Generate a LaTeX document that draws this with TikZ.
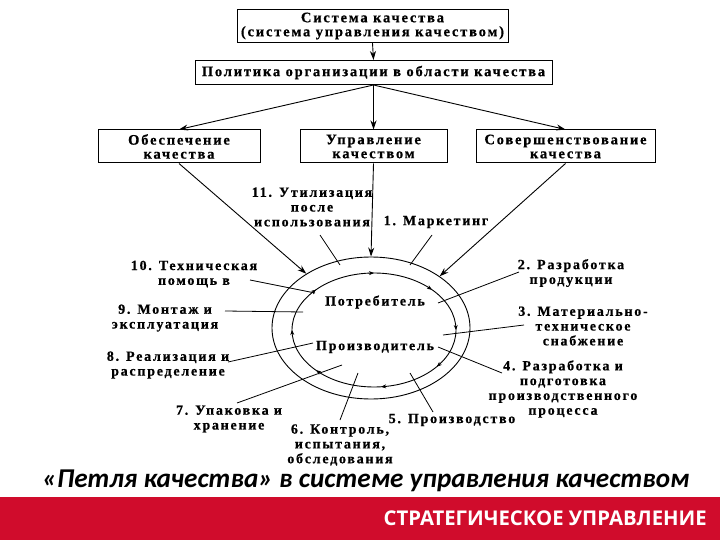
\documentclass[tikz,border=0pt]{standalone}
\usepackage{fontspec}
\setmainfont{Liberation Serif}
\newfontfamily\qfont[LetterSpace=12.5,BoldFeatures={FakeBold=0.6}]{Liberation Serif}
\newfontfamily\titlefont{Carlito}
\newfontfamily\footfont{Open Sans}
\usetikzlibrary{arrows.meta,shapes.geometric,calc}

\definecolor{bandred}{RGB}{208,12,44}

\tikzset{
  qbox/.style={draw, line width=1pt, inner sep=0pt, align=center,
    font=\qfont\bfseries\fontsize{14.5}{14}\selectfont},
  stage/.style={inner sep=0pt, align=center,
    font=\qfont\bfseries\fontsize{14}{14.8}\selectfont},
  ring/.style={draw, ellipse, line width=0.9pt, inner sep=0pt},
  feed/.style={line width=0.9pt, -{Stealth[length=9pt,width=6pt]}},
  tick/.style={line width=0.8pt},
  flow/.style={line width=0.6pt, -{Stealth[length=5pt,width=4pt]}}
}

\begin{document}
\begin{tikzpicture}[x=1pt,y=-1pt]
\useasboundingbox (0,0) rectangle (720,540);
\fill[white] (0,0) rectangle (720,540);

% top of the scheme
\node[qbox, minimum width=271, minimum height=33] (sys) at (372.5,26)
  {Система качества\\(система управления качеством)};
\node[qbox, minimum width=357, minimum height=24] (pol) at (373.5,72.5)
  {Политика организации в области качества};
\node[qbox, minimum width=162, minimum height=33] (obes) at (179,146.5)
  {Обеспечение\\качества};
\node[qbox, minimum width=147, minimum height=33] (upr) at (373.5,146.5)
  {Управление\\качеством};
\node[qbox, minimum width=179, minimum height=33] (sov) at (565.5,146.5)
  {Совершенствование\\качества};

\draw[feed] (sys.south) -- (pol.north);
\draw[feed] (pol.south) -- (obes.north);
\draw[feed] (pol.south) -- (upr.north);
\draw[feed] (pol.south) -- (sov.north);

% the loop
\node[ring, minimum width=198, minimum height=142] (outer) at (371,328) {};
\node[ring, minimum width=164, minimum height=114] (inner) at (374,330) {};
\node[stage] (cons) at (375,302) {Потребитель};
\node[stage] (prod) at (375,347) {Производитель};

\draw[feed] (obes.south) -- (outer.140);
\draw[feed] (upr.south) -- (outer.north);
\draw[feed] (sov.south) -- (outer.37);

% arrows round the inner ring
\foreach \a in {-90,-45,0,40,85,135,180,225}
  \draw[flow] ($(inner.center)+({82*cos(\a-4)},{57*sin(\a-4)})$)
    -- ($(inner.center)+({82*cos(\a)},{57*sin(\a)})$);

% stages
\node[stage] (st11) at (312,207) {11. Утилизация\\после\\использования};
\node[stage] (st1) at (436,222) {1. Маркетинг};
\node[stage] (st2) at (571,273) {2. Разработка\\продукции};
\node[stage] (st3) at (583,326) {3. Материально-\\техническое\\снабжение};
\node[stage] (st4) at (563,389) {4. Разработка и\\подготовка\\производственного\\процесса};
\node[stage] (st5) at (452,420) {5. Производство};
\node[stage] (st6) at (340,445) {6. Контроль,\\испытания,\\обследования};
\node[stage] (st7) at (229,419) {7. Упаковка и\\хранение};
\node[stage] (st8) at (168,365) {8. Реализация и\\распределение};
\node[stage] (st9) at (165,318) {9. Монтаж и\\эксплуатация};
\node[stage] (st10) at (194,274) {10. Техническая\\помощь в};

\coordinate (a1) at (432,235);  \coordinate (b1) at (410,265);
\coordinate (a2) at (519,272);  \coordinate (b2) at (438,303);
\coordinate (a3) at (524,325);  \coordinate (b3) at (443,335);
\coordinate (a4) at (502,373);  \coordinate (b4) at (438,347);
\coordinate (a5) at (433,412);  \coordinate (b5) at (410,373);
\coordinate (a6) at (340,420);  \coordinate (b6) at (358,373);
\coordinate (a7) at (237,403);  \coordinate (b7) at (342,365);
\coordinate (a8) at (228,362);  \coordinate (b8) at (313,343);
\coordinate (a9) at (225,311);  \coordinate (b9) at (303,312);
\coordinate (a10) at (250,280); \coordinate (b10) at (315,293);
\coordinate (a11) at (320,235); \coordinate (b11) at (340,265);
\foreach \i in {1,...,11}
  \draw[tick] (a\i) -- (b\i);

% caption and band
\node[inner sep=0pt, font=\titlefont\bfseries\itshape\fontsize{27.2}{30}\selectfont]
  (cap) at (366,481) {«Петля качества» в системе управления качеством};
\fill[bandred] (0,497) rectangle (720,540);
\node[inner sep=0pt, anchor=east, text=white,
  font=\footfont\bfseries\fontsize{20.3}{22}\selectfont]
  (band) at (707,518) {СТРАТЕГИЧЕСКОЕ УПРАВЛЕНИЕ};
\end{tikzpicture}
\end{document}
